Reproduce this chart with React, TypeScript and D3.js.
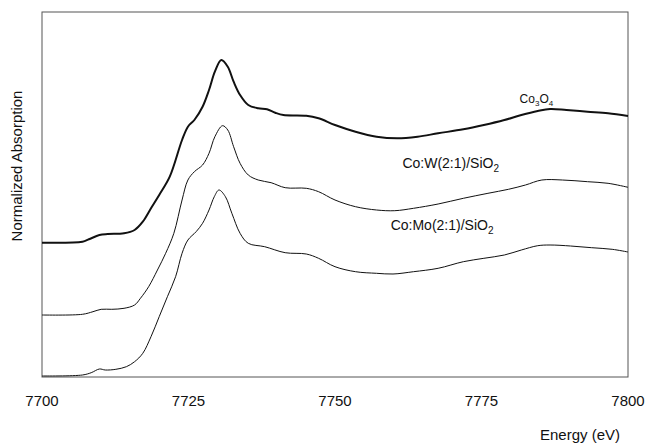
import React from "react";
import * as d3 from "d3";

const energyCo3O4 = [7700, 7706.9, 7708.0, 7709.8, 7711.2, 7714.0, 7715.8, 7717.2, 7718.6, 7720.0, 7721.8, 7723.9, 7724.9, 7726.0, 7727.4, 7728.5, 7729.5, 7730.6, 7731.7, 7732.7, 7733.8, 7735.2, 7736.9, 7738.4, 7739.8, 7741.2, 7745.1, 7747.2, 7750.0, 7753.5, 7757.1, 7760.6, 7764.1, 7767.6, 7771.9, 7775.4, 7778.9, 7781.8, 7784.6, 7786.7, 7789.5, 7793.1, 7796.6, 7800];
const absCo3O4 = [1.343, 1.353, 1.377, 1.42, 1.43, 1.437, 1.47, 1.553, 1.687, 1.82, 2.003, 2.37, 2.503, 2.57, 2.703, 2.87, 3.053, 3.17, 3.103, 2.953, 2.82, 2.72, 2.687, 2.677, 2.643, 2.62, 2.613, 2.587, 2.52, 2.453, 2.403, 2.387, 2.403, 2.437, 2.477, 2.52, 2.57, 2.62, 2.66, 2.68, 2.67, 2.653, 2.637, 2.61];

const energyW = [7700, 7706.9, 7708.7, 7710.1, 7711.9, 7714.0, 7715.8, 7716.8, 7718.2, 7719.7, 7721.1, 7722.5, 7723.9, 7724.9, 7726.0, 7727.4, 7728.5, 7729.5, 7730.8, 7731.7, 7732.7, 7733.8, 7735.2, 7736.9, 7739.1, 7741.5, 7745.1, 7747.2, 7750.0, 7753.5, 7757.1, 7760.2, 7763.4, 7767.6, 7771.9, 7776.1, 7779.6, 7782.5, 7785.3, 7788.8, 7793.1, 7796.6, 7800];
const absW = [0.62, 0.627, 0.653, 0.677, 0.677, 0.687, 0.72, 0.787, 0.903, 1.07, 1.237, 1.437, 1.77, 1.97, 2.053, 2.12, 2.237, 2.403, 2.513, 2.47, 2.303, 2.137, 2.02, 1.97, 1.943, 1.893, 1.887, 1.853, 1.77, 1.703, 1.67, 1.663, 1.687, 1.73, 1.787, 1.837, 1.877, 1.92, 1.97, 1.97, 1.953, 1.937, 1.897];

const energyMo = [7700, 7706.9, 7708.4, 7709.8, 7710.8, 7712.6, 7714.4, 7715.8, 7717.2, 7718.6, 7720.0, 7721.4, 7722.8, 7723.9, 7724.9, 7726.3, 7727.4, 7728.5, 7729.4, 7730.2, 7731.3, 7732.4, 7733.8, 7735.2, 7738.0, 7741.5, 7745.1, 7747.2, 7750.0, 7753.5, 7757.1, 7759.9, 7763.4, 7767.6, 7771.9, 7775.4, 7778.9, 7781.8, 7784.6, 7786.7, 7790.2, 7793.8, 7797.3, 7800];
const absMo = [0.01, 0.02, 0.043, 0.08, 0.07, 0.077, 0.103, 0.153, 0.237, 0.403, 0.603, 0.803, 1.003, 1.237, 1.37, 1.453, 1.537, 1.67, 1.803, 1.87, 1.803, 1.637, 1.437, 1.337, 1.303, 1.243, 1.23, 1.187, 1.103, 1.053, 1.037, 1.03, 1.053, 1.087, 1.153, 1.187, 1.22, 1.27, 1.313, 1.32, 1.31, 1.293, 1.277, 1.25];

const xTicks = [7700, 7725, 7750, 7775, 7800];

const W = 647;
const H = 444;
const left = 42, right = 628, top = 12, bottom = 377;

export default function App() {
  const x = d3.scaleLinear().domain([7700, 7800]).range([left, right]);
  const y = d3.scaleLinear().domain([0, 3.65]).range([bottom, top]);
  const line = d3
    .line<[number, number]>()
    .x((d) => x(d[0]))
    .y((d) => y(d[1]))
    .curve(d3.curveCatmullRom.alpha(0.5));
  const zip = (a: number[], b: number[]) => a.map((v, i) => [v, b[i]] as [number, number]);
  const font = "'Liberation Sans', Arial, sans-serif";
  return (
    <svg
      width={W}
      height={H}
      style={{ position: "absolute", left: 0, top: 0, background: "#fff" }}
      fontFamily={font}
    >
      <rect x={left} y={top} width={right - left} height={bottom - top} fill="none" stroke="#555" strokeWidth={1} />
      <path d={line(zip(energyCo3O4, absCo3O4)) || ""} fill="none" stroke="#111" strokeWidth={2} strokeLinejoin="round" />
      <path d={line(zip(energyW, absW)) || ""} fill="none" stroke="#111" strokeWidth={1} strokeLinejoin="round" />
      <path d={line(zip(energyMo, absMo)) || ""} fill="none" stroke="#111" strokeWidth={1} strokeLinejoin="round" />
      {xTicks.map((t) => (
        <text key={t} x={x(t)} y={406} textAnchor="middle" fontSize={15} fill="#111">
          {t}
        </text>
      ))}
      <text x={620} y={440} textAnchor="end" fontSize={15} fill="#111">
        Energy (eV)
      </text>
      <text
        transform={`translate(22,${(top + 320) / 2}) rotate(-90)`}
        textAnchor="middle"
        fontSize={15}
        fill="#111"
      >
        Normalized Absorption
      </text>
      <text x={x(7781.5)} y={103} fontSize={12} fill="#111">
        Co<tspan fontSize={8} dy={3}>3</tspan>
        <tspan dy={-3}>O</tspan>
        <tspan fontSize={8} dy={3}>4</tspan>
      </text>
      <text x={x(7761.5)} y={168} fontSize={14} fill="#111">
        Co:W(2:1)/SiO<tspan fontSize={10} dy={4}>2</tspan>
      </text>
      <text x={x(7759.5)} y={230} fontSize={14} fill="#111">
        Co:Mo(2:1)/SiO<tspan fontSize={10} dy={4}>2</tspan>
      </text>
    </svg>
  );
}
